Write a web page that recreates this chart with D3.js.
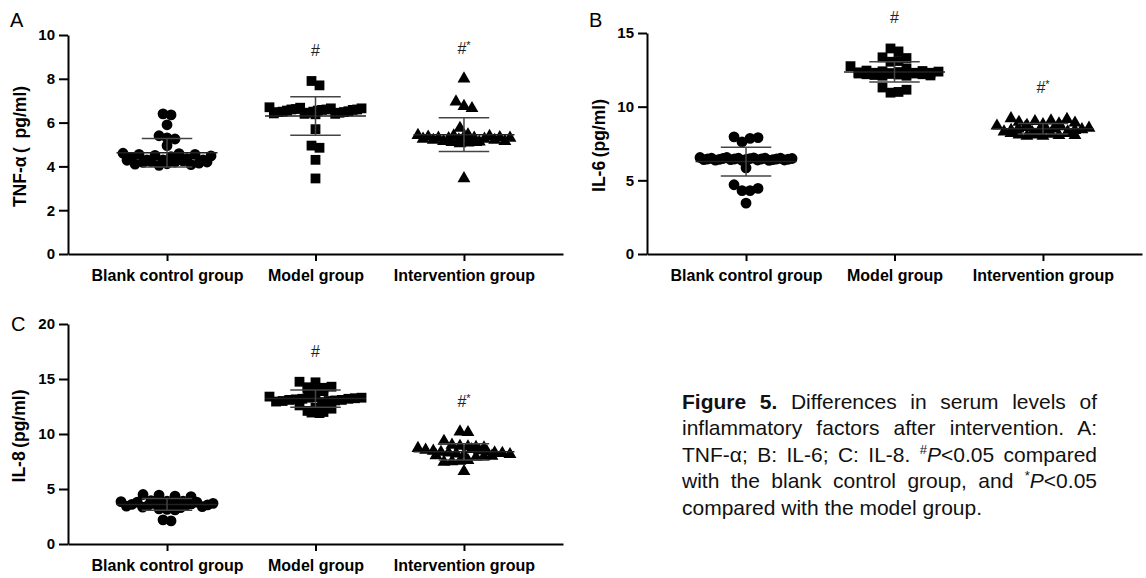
<!DOCTYPE html>
<html><head><meta charset="utf-8">
<script src="https://cdn.jsdelivr.net/npm/d3@7"></script>
<style>body{margin:0;background:#fff}svg{display:block}</style>
</head><body>
<svg id="chart" width="1146" height="578"></svg>
<script>
// ---------------- data ----------------
const groups = ["Blank control group", "Model group", "Intervention group"];
const sigLabels = ["", "#", "#*"];

// Panel A: TNF-α (pg/ml)
const tnfBlank = [6.4, 6.35, 5.9, 5.4, 5.3, 5.25, 4.95, 4.6, 4.58, 4.55, 4.55, 4.5, 4.48, 4.45, 4.4, 4.35, 4.3, 4.3, 4.28, 4.25, 4.22, 4.2, 4.2, 4.18, 4.15, 4.12, 4.1, 4.08, 4.05, 4.3];
const tnfModel = [7.9, 7.7, 6.7, 6.68, 6.65, 6.65, 6.62, 6.6, 6.6, 6.58, 6.58, 6.55, 6.55, 6.52, 6.5, 6.5, 6.48, 6.48, 6.45, 6.45, 6.42, 6.4, 6.4, 6.38, 5.7, 4.95, 4.85, 4.3, 3.45, 6.6];
const tnfInterv = [8.0, 6.95, 6.75, 6.65, 5.75, 5.45, 5.42, 5.4, 5.38, 5.35, 5.32, 5.3, 5.3, 5.28, 5.25, 5.22, 5.2, 5.2, 5.18, 5.15, 5.12, 5.1, 5.1, 5.08, 5.05, 5.3, 5.25, 5.15, 5.35, 3.45];
const tnfTicks = [0, 2, 4, 6, 8, 10];

// Panel B: IL-6 (pg/ml)
const il6Blank = [7.95, 7.9, 7.85, 7.6, 6.55, 6.55, 6.52, 6.5, 6.5, 6.5, 6.48, 6.48, 6.47, 6.45, 6.45, 6.45, 6.43, 6.42, 6.42, 6.4, 6.4, 6.4, 6.38, 6.38, 6.37, 6.35, 6.35, 6.5, 6.45, 5.85, 4.7, 4.45, 4.3, 4.3, 3.45];
const il6Model = [13.95, 13.75, 13.35, 13.3, 13.1, 13.05, 12.75, 12.6, 12.45, 12.42, 12.4, 12.38, 12.35, 12.33, 12.3, 12.3, 12.28, 12.25, 12.22, 12.2, 12.2, 12.18, 12.15, 12.12, 12.1, 12.1, 12.3, 12.25, 11.3, 11.15, 11.0, 10.95];
const il6Interv = [9.2, 9.15, 9.05, 9.0, 8.95, 8.9, 8.85, 8.8, 8.75, 8.7, 8.65, 8.6, 8.55, 8.5, 8.5, 8.45, 8.4, 8.4, 8.35, 8.3, 8.3, 8.25, 8.2, 8.2, 8.15, 8.1, 8.1, 8.05, 8.05, 8.0, 8.0, 8.45];
const il6Ticks = [0, 5, 10, 15];

// Panel C: IL-8 (pg/ml)
const il8Blank = [4.5, 4.45, 4.35, 4.3, 3.95, 3.9, 3.9, 3.85, 3.85, 3.8, 3.8, 3.75, 3.7, 3.7, 3.65, 3.6, 3.6, 3.55, 3.5, 3.5, 3.45, 3.4, 3.4, 3.35, 3.3, 3.2, 3.15, 3.1, 2.2, 2.1];
const il8Model = [14.75, 14.7, 14.3, 14.25, 14.2, 14.1, 13.95, 13.9, 13.4, 13.35, 13.3, 13.3, 13.25, 13.2, 13.2, 13.15, 13.1, 13.1, 13.05, 13.0, 13.0, 12.95, 12.9, 12.6, 12.4, 12.3, 12.1, 12.0, 11.95, 11.9];
const il8Interv = [10.2, 10.15, 9.35, 9.0, 8.9, 8.85, 8.8, 8.75, 8.7, 8.6, 8.55, 8.5, 8.45, 8.4, 8.35, 8.3, 8.3, 8.25, 8.2, 8.15, 8.1, 8.05, 8.0, 7.95, 7.9, 7.6, 7.55, 7.5, 7.45, 6.6];
const il8Ticks = [0, 5, 10, 15, 20];

const captionLines = [
  [["Figure 5.", "b"], [" Differences in serum levels of", ""]],
  [["inflammatory factors after intervention. A:", ""]],
  [["TNF-α; B: IL-6; C: IL-8. ", ""], ["#", "sup"], ["P", "i"], ["<0.05 compared", ""]],
  [["with the blank control group, and ", ""], ["*", "sup"], ["P", "i"], ["<0.05", ""]],
  [["compared with the model group.", ""]]
];

// ---------------- drawing ----------------
const svg = d3.select("#chart");
const FONT = "'Liberation Sans', Arial, Helvetica, sans-serif";
const shapes = [d3.symbolCircle, d3.symbolSquare, d3.symbolTriangle];
const shapeSizes = [92, 96, 72];

function gcd(a, b) { return b ? gcd(b, a % b) : a; }

function swarm(vals, cx, y, step) {
  const binPx = 7, dot = 8, maxHalf = 0.31 * step;
  const pts = vals.map((v, i) => ({ v, i, py: y(v) }));
  const sorted = pts.slice().sort((a, b) => a.py - b.py);
  const bins = [];
  let cur = null;
  sorted.forEach(p => {
    if (!cur || p.py - cur.start >= binPx) { cur = { start: p.py, items: [] }; bins.push(cur); }
    cur.items.push(p);
  });
  bins.forEach(b => {
    const arr = b.items;
    const n = arr.length;
    const sp = n > 1 ? Math.min(dot, 2 * maxHalf / (n - 1)) : 0;
    let m = 7; while (n > 1 && gcd(m, n) !== 1) m += 2;
    arr.forEach((p, k) => { const slot = n > 1 ? (k * m) % n : 0; p.px = cx + (slot - (n - 1) / 2) * sp; });
  });
  return pts;
}

function panel(o) {
  const g = svg.append("g");
  const x = d3.scalePoint().domain(groups).range(o.xr).padding(0.667);
  const y = d3.scaleLinear().domain([0, d3.max(o.ticks)]).range(o.yr);
  const step = x.step();

  o.series.forEach((vals, gi) => {
    const cx = x(groups[gi]);
    const pts = swarm(vals, cx, y, step);
    g.append("g").selectAll("path").data(pts).join("path")
      .attr("transform", d => `translate(${d.px},${d.py})`)
      .attr("d", d3.symbol(shapes[gi], shapeSizes[gi]))
      .attr("fill", "#000");
    const m = d3.mean(vals), sd = d3.deviation(vals);
    const eb = g.append("g").attr("stroke", "#444").attr("stroke-width", 1.5);
    eb.append("line").attr("x1", cx - 0.34 * step).attr("x2", cx + 0.34 * step).attr("y1", y(m)).attr("y2", y(m)).attr("stroke", "#222");
    eb.append("line").attr("x1", cx).attr("x2", cx).attr("y1", y(m - sd)).attr("y2", y(m + sd));
    [m - sd, m + sd].forEach(v => eb.append("line").attr("x1", cx - 0.17 * step).attr("x2", cx + 0.17 * step).attr("y1", y(v)).attr("y2", y(v)));
    if (sigLabels[gi]) {
      const t = g.append("text").attr("x", cx).attr("y", y(d3.max(vals)) - 25)
        .attr("text-anchor", "middle").attr("font-family", FONT).attr("font-size", 16).attr("fill", "#222");
      t.append("tspan").text(sigLabels[gi][0]);
      if (sigLabels[gi].length > 1) t.append("tspan").attr("dy", -5).attr("font-size", 11).text(sigLabels[gi].slice(1));
    }
  });

  const ya = g.append("g").attr("transform", `translate(${o.xr[0]},0)`)
    .call(d3.axisLeft(y).tickValues(o.ticks).tickSize(9).tickSizeOuter(0).tickPadding(4));
  const xa = g.append("g").attr("transform", `translate(0,${o.yr[0]})`)
    .call(d3.axisBottom(x).tickSize(7).tickSizeOuter(0).tickPadding(9));
  [ya, xa].forEach(a => {
    a.selectAll("path.domain").attr("stroke", "#000").attr("stroke-width", 2);
    a.selectAll(".tick line").attr("stroke", "#000").attr("stroke-width", 2);
    a.selectAll(".tick text").attr("fill", "#000").attr("font-family", FONT).attr("font-weight", "bold");
  });
  ya.selectAll(".tick text").attr("font-size", 15);
  xa.selectAll(".tick text").attr("font-size", 16);

  g.append("text").attr("transform", `translate(${o.titleX},${(o.yr[0] + o.yr[1]) / 2 + 2}) rotate(-90)`)
    .attr("text-anchor", "middle").attr("dy", "0.35em")
    .attr("font-family", FONT).attr("font-weight", "bold").attr("font-size", 17.5).attr("fill", "#000")
    .text(o.title);
  g.append("text").attr("x", o.letterPos[0]).attr("y", o.letterPos[1])
    .attr("font-family", FONT).attr("font-size", 20).attr("fill", "#000").text(o.letter);
}

panel({ series: [tnfBlank, tnfModel, tnfInterv], ticks: tnfTicks, xr: [68, 563], yr: [254, 35],
  title: "TNF-α\u2009(\u2002pg/ml)", titleX: 20, letter: "A", letterPos: [10, 27] });
panel({ series: [il6Blank, il6Model, il6Interv], ticks: il6Ticks, xr: [647, 1142], yr: [254, 33],
  title: "IL-6\u2009(pg/ml)", titleX: 599, letter: "B", letterPos: [589, 27] });
panel({ series: [il8Blank, il8Model, il8Interv], ticks: il8Ticks, xr: [68, 563], yr: [544, 324],
  title: "IL-8\u2009(pg/ml)", titleX: 19, letter: "C", letterPos: [11, 331] });

const capX = 682, capW = 415, capY0 = 408.5, capLH = 26.6;
captionLines.forEach((segs, li) => {
  const t = svg.append("text").attr("x", capX).attr("y", capY0 + li * capLH)
    .attr("font-family", FONT).attr("font-size", 21).attr("fill", "#111");
  let shifted = 0;
  segs.forEach(([txt, st]) => {
    const ts = t.append("tspan").text(txt);
    if (st === "b") ts.attr("font-weight", "bold");
    if (st === "i") ts.attr("font-style", "italic");
    if (st === "sup") { ts.attr("font-size", 13).attr("dy", -8); shifted = 8; }
    else if (shifted) { ts.attr("dy", shifted); shifted = 0; }
  });
  if (li < captionLines.length - 1) {
    const full = segs.map(s => s[0]).join("");
    const spaces = (full.match(/ /g) || []).length;
    const len = t.node().getComputedTextLength();
    t.style("word-spacing", ((capW - len) / spaces) + "px");
  }
});
</script>
</body></html>
